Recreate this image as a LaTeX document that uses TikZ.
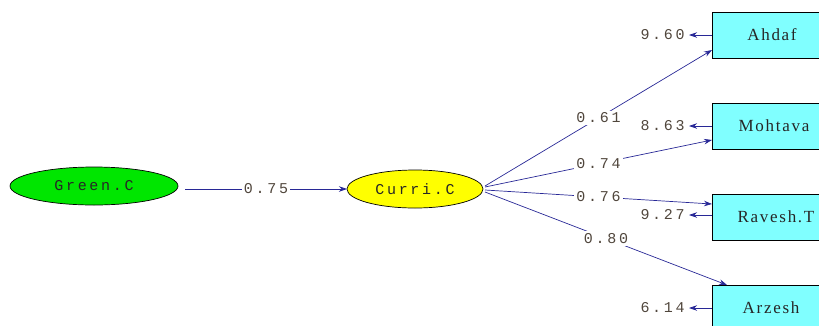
\documentclass[tikz,border=0pt]{standalone}
\usepackage{fontspec}
\newfontfamily\lblfont[LetterSpace=18]{Liberation Mono}
\newfontfamily\boxfont[LetterSpace=10]{Liberation Serif}
\usetikzlibrary{arrows.meta,shapes.geometric}
\definecolor{lineblue}{RGB}{40,40,150}
\definecolor{lblcol}{RGB}{80,70,60}
\definecolor{boxcyan}{RGB}{128,255,255}
\definecolor{latgreen}{RGB}{0,230,0}
\definecolor{latyellow}{RGB}{255,255,0}
\tikzset{
  latent/.style={ellipse,draw=black,line width=0.7pt,minimum height=38pt,inner sep=0pt,font=\lblfont\fontsize{15}{15}\selectfont,text=black!85},
  obsbox/.style={rectangle,draw=black,line width=0.7pt,fill=boxcyan,minimum width=123pt,minimum height=46pt,anchor=north west},
  boxtext/.style={font=\boxfont\fontsize{17}{17}\selectfont,text=black!85},
  conn/.style={draw=lineblue,line width=0.7pt,-{Stealth[length=8pt,width=5.5pt]}},
  lbl/.style={fill=white,inner sep=2pt,font=\lblfont\fontsize{15}{15}\selectfont,text=lblcol},
  errlbl/.style={inner sep=0pt,xshift=-4pt,font=\lblfont\fontsize{15}{15}\selectfont,text=lblcol,anchor=east}
}
\begin{document}
\begin{tikzpicture}[x=1pt,y=-1pt]
\useasboundingbox (0,0) rectangle (819,325);
\begin{scope}
\clip (0,0) rectangle (819,325);
\node[latent,fill=latgreen,minimum width=168pt] (green) at (94,186) {Green.C};
\node[latent,fill=latyellow,minimum width=136pt] (curri) at (415,189) {Curri.C};
\node[obsbox] (ahdaf) at (712,12) {};
\node[obsbox] (mohtava) at (712,103) {};
\node[obsbox] (ravesh) at (712,194) {};
\node[obsbox] (arzesh) at (712,285) {};
\node[boxtext] (tahdaf) at (772,35) {Ahdaf};
\node[boxtext] (tmohtava) at (774,126) {Mohtava};
\node[boxtext] (travesh) at (776,217) {Ravesh.T};
\node[boxtext] (tarzesh) at (771,308) {Arzesh};
\coordinate (gout) at (185,189);
\coordinate (cin) at (347,189);
\coordinate (c1) at (485,186);
\coordinate (c2) at (485,187);
\coordinate (c3) at (485,190);
\coordinate (c4) at (485,192);
\coordinate (a1) at (712,50);
\coordinate (a2) at (712,140);
\coordinate (a3) at (712,204);
\coordinate (a4) at (727,285);
\draw[conn] (gout) -- node[lbl] {0.75} (cin);
\draw[conn] (c1) -- node[lbl] {0.61} (a1);
\draw[conn] (c2) -- node[lbl] {0.74} (a2);
\draw[conn] (c3) -- node[lbl] {0.76} (a3);
\draw[conn] (c4) -- node[lbl] {0.80} (a4);
\coordinate (e1) at (712,35);
\coordinate (e2) at (712,126);
\coordinate (e3) at (712,215);
\coordinate (e4) at (712,308);
\coordinate (f1) at (689,35);
\coordinate (f2) at (689,126);
\coordinate (f3) at (689,215);
\coordinate (f4) at (689,308);
\draw[conn] (e1) -- (f1) node[errlbl] {9.60};
\draw[conn] (e2) -- (f2) node[errlbl] {8.63};
\draw[conn] (e3) -- (f3) node[errlbl] {9.27};
\draw[conn] (e4) -- (f4) node[errlbl] {6.14};
\end{scope}
\end{tikzpicture}
\end{document}
